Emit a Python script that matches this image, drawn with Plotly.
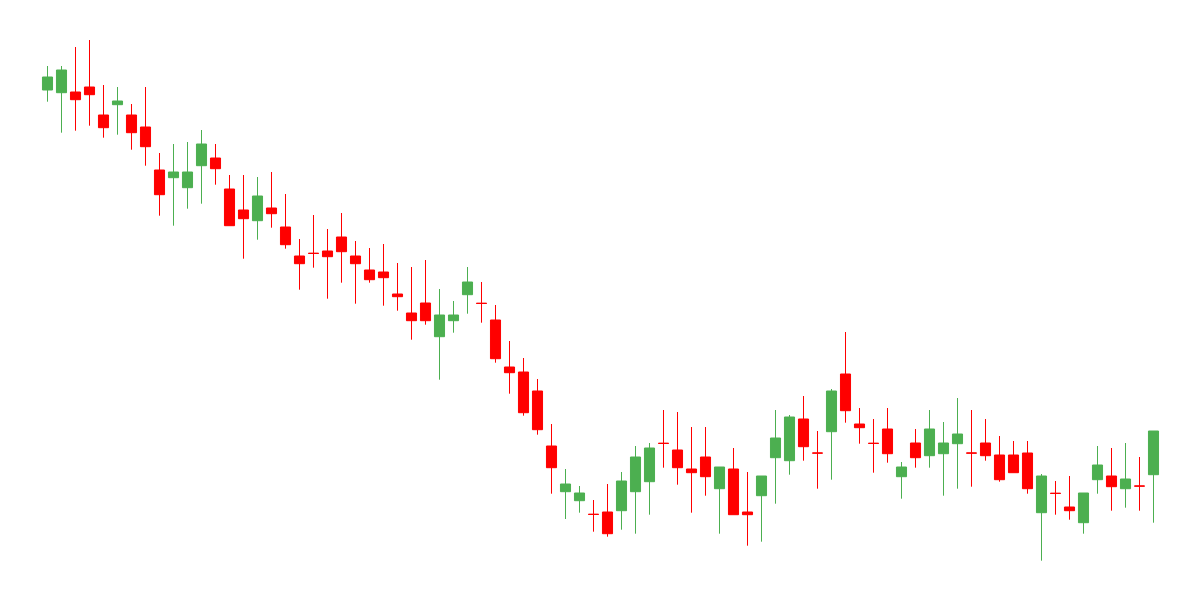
import plotly.graph_objects as go

idx = list(range(80))

open_ = [71.00, 70.73, 70.80, 71.30, 68.50, 69.53, 68.50, 67.30, 63.00, 62.23,
         61.23, 63.43, 64.20, 61.10, 59.00, 57.93, 59.20, 57.30, 54.40, 54.67,
         54.90, 56.30, 54.40, 53.00, 52.80, 50.60, 48.70, 49.70, 46.33, 47.93,
         50.53, 49.67, 48.00, 43.30, 42.80, 40.90, 35.40, 30.83, 29.93, 28.57,
         28.80, 28.93, 30.83, 31.83, 35.67, 35.00, 33.10, 34.30, 31.13, 33.10,
         28.80, 30.43, 34.23, 33.93, 38.10, 34.70, 36.83, 42.60, 37.60, 35.67,
         37.10, 32.33, 35.70, 34.43, 34.63, 35.63, 34.70, 35.70, 34.50, 34.50,
         34.70, 28.73, 30.67, 29.30, 27.73, 32.03, 32.40, 31.13, 31.40, 32.53]

high = [73.40, 73.40, 75.30, 76.00, 71.50, 71.30, 69.60, 71.30, 64.70, 65.60,
        65.80, 67.00, 65.60, 62.50, 62.50, 62.30, 62.80, 60.60, 56.10, 58.50,
        57.10, 58.70, 55.90, 55.20, 55.60, 53.70, 53.30, 54.00, 51.10, 49.90,
        53.30, 51.80, 49.50, 45.90, 44.20, 42.10, 37.60, 33.10, 31.40, 30.00,
        31.60, 32.80, 35.40, 35.70, 39.00, 38.80, 37.30, 37.30, 33.30, 35.20,
        32.80, 32.40, 39.00, 38.50, 40.40, 36.90, 41.10, 46.80, 39.20, 38.10,
        39.20, 33.80, 37.10, 39.00, 37.80, 40.20, 39.00, 38.10, 36.40, 35.90,
        35.90, 32.60, 31.90, 32.40, 30.70, 35.40, 35.20, 35.70, 34.30, 36.90]

low = [69.83, 66.73, 66.93, 67.43, 66.23, 66.53, 65.03, 63.43, 58.43, 57.43,
       59.13, 59.63, 61.53, 57.43, 54.13, 56.03, 57.23, 55.13, 51.03, 53.23,
       50.13, 51.73, 49.63, 51.73, 49.43, 48.93, 46.03, 47.53, 42.03, 46.73,
       48.63, 47.73, 43.73, 40.63, 38.43, 36.53, 30.63, 28.10, 28.73, 26.83,
       26.33, 27.03, 26.63, 28.53, 33.23, 31.53, 28.73, 30.43, 26.63, 28.53,
       25.43, 25.83, 29.63, 32.53, 33.93, 31.13, 32.03, 37.73, 35.63, 32.73,
       33.73, 30.13, 33.23, 33.23, 30.43, 31.13, 31.33, 33.93, 31.83, 32.73,
       30.63, 23.93, 28.53, 28.03, 26.63, 30.63, 28.93, 29.23, 28.93, 27.73]

close = [72.30, 73.00, 70.03, 70.53, 67.23, 69.90, 66.73, 65.33, 60.53, 62.80,
         62.80, 65.60, 63.13, 57.43, 58.13, 60.40, 58.63, 55.53, 53.63, 54.66,
         54.33, 54.83, 53.63, 52.03, 52.23, 50.33, 47.93, 47.93, 48.50, 48.50,
         51.80, 49.66, 44.13, 42.73, 38.73, 37.03, 33.23, 31.60, 30.70, 28.56,
         26.63, 31.90, 34.30, 35.20, 35.66, 33.23, 32.73, 32.33, 33.30, 28.53,
         28.53, 32.40, 36.20, 38.30, 35.33, 34.69, 40.90, 38.93, 37.23, 35.66,
         34.63, 33.30, 34.23, 37.10, 35.70, 36.60, 34.69, 34.43, 32.03, 32.73,
         31.13, 32.40, 30.66, 28.93, 30.70, 33.50, 31.33, 32.10, 31.39, 36.90]

fig = go.Figure(go.Candlestick(
    x=idx, open=open_, high=high, low=low, close=close,
    increasing=dict(line=dict(color="#4CAF50", width=1), fillcolor="#4CAF50"),
    decreasing=dict(line=dict(color="#FF0000", width=1), fillcolor="#FF0000"),
    whiskerwidth=0,
    hoverinfo="skip",
))

fig.update_layout(
    width=1200, height=600,
    margin=dict(l=0, r=0, t=0, b=0),
    paper_bgcolor="white", plot_bgcolor="white",
    showlegend=False,
    boxgap=0.28, boxgroupgap=0,
    xaxis=dict(range=[-47.5 / 14, (1200 - 47.5) / 14], visible=False,
               rangeslider=dict(visible=False), showgrid=False, zeroline=False),
    yaxis=dict(range=[20, 80], visible=False, showgrid=False, zeroline=False),
)

fig.write_html("out.html", config={"displayModeBar": False},
               post_script="document.body.style.margin='0';")
